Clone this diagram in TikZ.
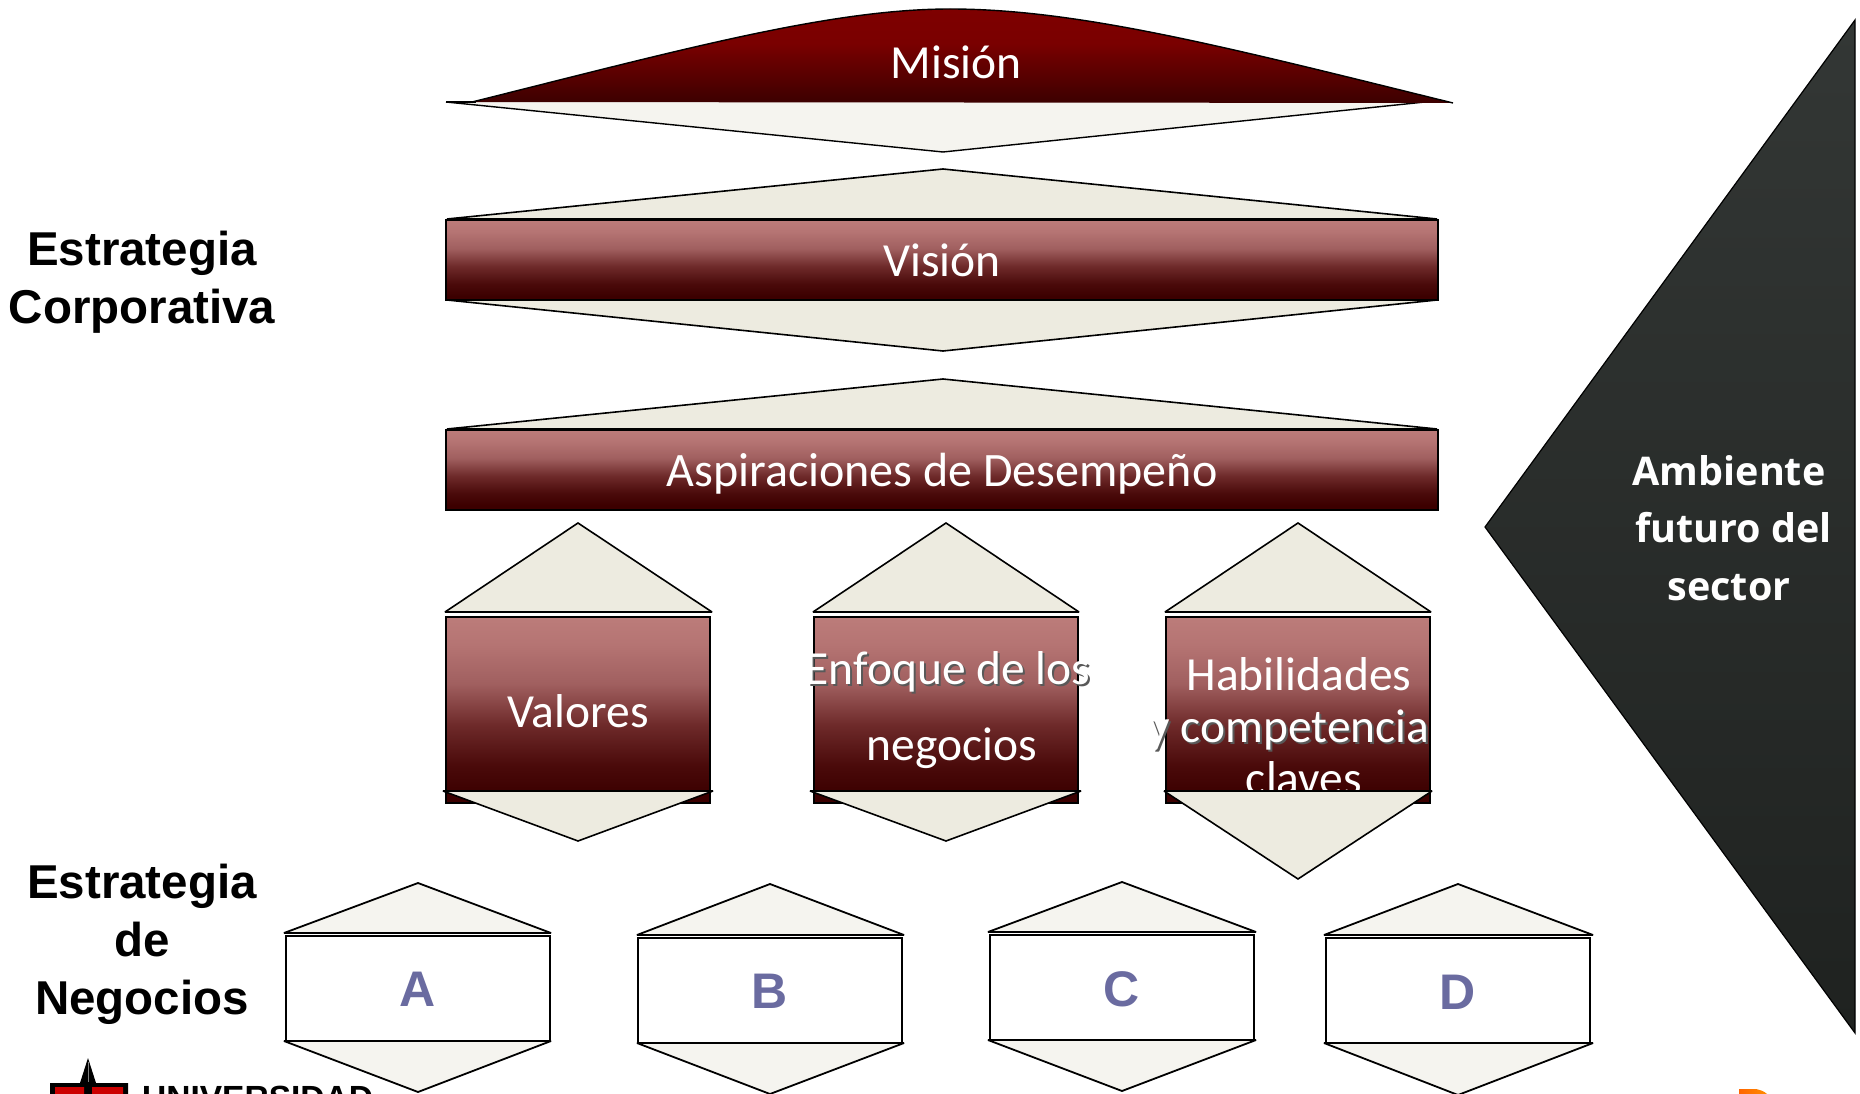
\documentclass[tikz,border=0pt]{standalone}
\usepackage{fontspec}
\setmainfont{Carlito}
\newfontfamily\arialf{Liberation Sans}
\newfontfamily\ambf{Open Sans}
\definecolor{triA}{HTML}{EDEBE0}
\definecolor{triB}{HTML}{F5F4EF}
\definecolor{maroonBot}{HTML}{3C0000}
\definecolor{mA}{HTML}{4A0A0A}
\definecolor{mB}{HTML}{6E2A2A}
\definecolor{mC}{HTML}{A05F5F}
\definecolor{mD}{HTML}{B57473}
\definecolor{mE}{HTML}{BC7C7A}
\definecolor{misA}{HTML}{7A0000}
\definecolor{misB}{HTML}{7E0000}
\definecolor{letterc}{HTML}{6A6BA0}
\definecolor{darkTop}{HTML}{333735}
\definecolor{darkBot}{HTML}{1F2220}
\pgfdeclareverticalshading{maroonshade}{100bp}{
  color(0bp)=(maroonBot); color(27.5bp)=(maroonBot); color(35bp)=(mA);
  color(46bp)=(mB); color(57bp)=(mC);
  color(67.5bp)=(mD); color(75bp)=(mE);
  color(100bp)=(mE)}
\pgfdeclareverticalshading{misionshade}{100bp}{
  color(0bp)=(maroonBot); color(25bp)=(maroonBot); color(57bp)=(misA);
  color(75bp)=(misB); color(100bp)=(misB)}
\newcommand{\shadowed}[1]{\leavevmode\rlap{\kern2pt\raisebox{-2pt}{\textcolor{black!65}{#1}}}#1}
\newcommand{\lowered}[2]{\raisebox{-#1pt}[\height][0pt]{#2}}
\tikzset{
  x=1pt,y=-1pt,
  triangleA/.style={fill=triA,draw=black,line width=1.6pt,line join=miter,miter limit=3},
  triangleB/.style={fill=triB,draw=black,line width=1.8pt,line join=miter,miter limit=3},
  maroonbox/.style={draw=black,line width=2pt,shading=maroonshade,minimum width=#1,inner sep=0pt},
  whitebox/.style={draw=black,line width=2pt,fill=white,minimum width=264pt,minimum height=105pt,inner sep=0pt,
    text=letterc,font=\arialf\bfseries\fontsize{50}{50}\selectfont},
  wtext/.style={text=white,inner sep=0pt,anchor=base,font=\fontsize{47.5}{50}\selectfont},
  blacktext/.style={text=black,inner sep=0pt,align=center,font=\arialf\bfseries\fontsize{47.5}{58}\selectfont},
}
\begin{document}
\begin{tikzpicture}
\useasboundingbox (0,0) rectangle (1860,1094);
\clip (0,0) rectangle (1860,1094);
\fill[white] (0,0) rectangle (1860,1094);
% Ambiente
\path[draw=black,line width=1.2pt,top color=darkTop,bottom color=darkBot] (1855,20) -- (1485,527) -- (1855,1033) -- cycle;
\node[text=white,inner sep=0pt,align=center,font=\ambf\bfseries\fontsize{39.5}{57.5}\selectfont] (amb) at (1729,528) {Ambiente\\\hspace*{9pt}futuro del\\sector};
% Mision
\draw[triangleB,line width=1.4pt] (446,102) -- (943,152) -- (1425,102);
\path[draw=black,line width=1.4pt,shading=misionshade]
  (472,102) .. controls (680,50) and (830,9) .. (950,9) .. controls (1080,9) and (1230,48) .. (1453,103);
\draw[line width=2pt] (446,102) -- (476,102);
\node[wtext] (mision) at (956,79) {Misión};
% Vision
\draw[triangleA] (447,219) -- (943,169) -- (1437,219) -- cycle;
\node[maroonbox=992pt,minimum height=80pt] (vision) at (942,260) {};
\node[wtext] (visiont) at (942,276.5) {Visión};
\draw[triangleA] (447,300) -- (1437,300) -- (943,351) -- cycle;
% Aspiraciones
\draw[triangleA] (447,429) -- (943,379) -- (1437,429) -- cycle;
\node[maroonbox=992pt,minimum height=80pt] (asp) at (942,469.5) {};
\node[wtext,font=\fontsize{48}{50}\selectfont] (aspt) at (942,486) {Aspiraciones de Desempeño};
% Valores
\draw[triangleA] (445,612) -- (578,523) -- (712,612) -- cycle;
\node[maroonbox=264pt,minimum height=186pt] (val) at (578,710) {};
\node[wtext] (valt) at (578,727) {Valores};
\draw[triangleA] (443,791) -- (713,791) -- (578,841) -- cycle;
% Enfoque
\draw[triangleA] (813,612) -- (946,523) -- (1079,612) -- cycle;
\node[maroonbox=264pt,minimum height=186pt] (enf) at (946,710) {};
\node[wtext] (enft) at (948,684) {\shadowed{Enfoque de los}};
\node[wtext] (enfb) at (952,760) {negocios};
\draw[triangleA] (810,791) -- (1081,791) -- (946,841) -- cycle;
% Habilidades
\draw[triangleA] (1165,612) -- (1298,523) -- (1431,612) -- cycle;
\node[maroonbox=264pt,minimum height=186pt] (hab) at (1298,710) {};
\node[wtext] (habt) at (1299,690) {Habilidades};
\node[wtext] (habb) at (1289,742) {\shadowed{y competencia}};
\node[wtext] (habc) at (1304,794) {claves};
\draw[triangleA] (1164,791) -- (1432,791) -- (1298,879) -- cycle;
% Business row
\draw[triangleB] (284,933) -- (418,883) -- (551,933) -- cycle;
\node[whitebox] (a) at (418,988.5) {\lowered{1.2}{A}};
\draw[triangleB] (284,1041) -- (551,1041) -- (418,1092) -- cycle;
\draw[triangleB] (637,935) -- (770,884) -- (904,935) -- cycle;
\node[whitebox] (b) at (770,990) {\lowered{1.2}{B}};
\draw[triangleB] (637,1043) -- (904,1043) -- (770,1094) -- cycle;
\draw[triangleB] (988,932) -- (1122,882) -- (1256,932) -- cycle;
\node[whitebox] (c) at (1122,987) {\lowered{2.4}{C}};
\draw[triangleB] (988,1040) -- (1256,1040) -- (1122,1091) -- cycle;
\draw[triangleB] (1324,935) -- (1458,884) -- (1593,935) -- cycle;
\node[whitebox] (d) at (1458,990) {\lowered{2.4}{D}};
\draw[triangleB] (1324,1043) -- (1593,1043) -- (1458,1095) -- cycle;
% Labels
\node[blacktext] (corp) at (142,282.5) {Estrategia\\Corporativa};
\node[blacktext] (neg) at (142,944.5) {Estrategia\\de\\Negocios};
% Logo fragments
\fill[black] (50,1094) -- (50,1083) -- (80,1083) -- (88,1058) -- (96,1083) -- (128,1083) -- (128,1094) -- cycle;
\fill[red!80!black] (55,1087) rectangle (84,1094) (92,1087) rectangle (123,1094);
\draw[gray,line width=.8pt] (88,1062) -- (88,1082);
\node[inner sep=0pt,anchor=base west,text=black,font=\arialf\bfseries\fontsize{33.5}{33.5}\selectfont] (uni) at (142,1109) {UNIVERSIDAD};
\path[left color=orange!80!red,right color=orange!90!yellow] (1739,1094) -- (1739,1089) -- (1756,1089) .. controls (1760,1090) and (1764,1091) .. (1767,1094) -- cycle;
\end{tikzpicture}
\end{document}
